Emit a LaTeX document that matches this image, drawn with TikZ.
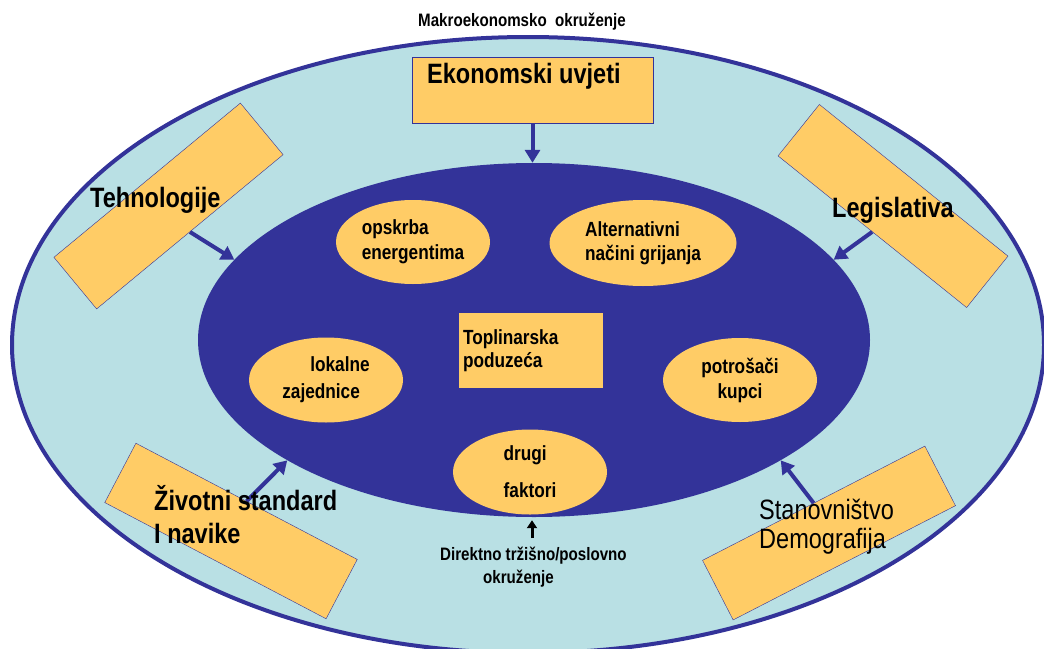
\documentclass[tikz,border=0pt]{standalone}
\usepackage{fontspec}
\setmainfont{Liberation Sans}[FakeStretch=0.84]
\usetikzlibrary{shapes.geometric}
\usetikzlibrary{arrows.meta}
\definecolor{okolina}{HTML}{B9E0E4}
\definecolor{tamnoplava}{HTML}{333399}
\definecolor{narancasta}{HTML}{FFCC66}

\begin{document}
\begin{tikzpicture}[x=1pt,y=-1pt,
		faktor/.style={ellipse,fill=narancasta,inner sep=0pt,minimum width=154pt,minimum height=84pt,align=left,font=\bfseries\fontsize{20.5}{25}\selectfont},
		okvir/.style={rectangle,draw=tamnoplava,fill=narancasta,minimum width=250pt,minimum height=67pt},
		utjecaj/.style={draw=tamnoplava,line width=4pt,-{Triangle[length=13pt,width=15pt]}},
		natpis/.style={anchor=base west,inner sep=0pt,align=left,font=\bfseries\fontsize{28}{33}\selectfont}]
	\useasboundingbox (0,0) rectangle (1044,648);
	\draw[fill=okolina,draw=tamnoplava,line width=4pt] (528,345) ellipse [x radius=516,y radius=308];
	\node[ellipse,fill=tamnoplava,inner sep=0pt,minimum width=672pt,minimum height=354pt] (trziste) at (534,340) {};

	\node[faktor] (opskrba) at (413,242) {opskrba\\energentima};
	\node[faktor,minimum width=187pt,minimum height=86pt,font=\bfseries\fontsize{20.5}{24}\selectfont] (grijanje) at (643,243) {Alternativni\\načini grijanja};
	\node[faktor,minimum height=85pt,font=\bfseries\fontsize{20.5}{27}\selectfont] (zajednice) at (326,380) {\hspace*{28pt}lokalne\\zajednice};
	\node[faktor,align=center] (kupci) at (740,380) {potrošači\\kupci};
	\node[faktor,minimum height=85pt,font=\bfseries\fontsize{20.5}{37}\selectfont] (drugi) at (530,472) {drugi\\faktori};
	\node[rectangle,fill=narancasta,minimum width=144pt,minimum height=75pt,text width=136pt,inner xsep=4pt,align=left,font=\bfseries\fontsize{20.5}{23}\selectfont] (poduzeca) at (531,350.5) {Toplinarska\\poduzeća};

	\node[okvir,minimum width=241pt,minimum height=66pt] (ekonomski) at (532.5,90) {};
	\node[okvir,minimum width=242pt,minimum height=67pt,rotate=39.6] (tehnologije) at (168.5,206) {};
	\node[okvir,minimum width=242pt,minimum height=66pt,rotate=-38.8] (legislativa) at (893,206) {};
	\node[okvir,rotate=-27.7] (standard) at (231,531) {};
	\node[okvir,rotate=27.2] (stanovnistvo) at (829,533) {};

	\draw[utjecaj] (ekonomski.south) -- (ekonomski.south |- trziste.north);
	\draw[utjecaj] (tehnologije.south) -- (trziste.165);
	\draw[utjecaj] (legislativa.south) -- (trziste.15);
	\draw[utjecaj] (standard.north) -- (trziste.206);
	\draw[utjecaj] (stanovnistvo.north) -- (trziste.334);

	\node[anchor=base,inner sep=0pt,font=\bfseries\fontsize{18}{20}\selectfont] (makro) at (522,26) {Makroekonomsko\ \ okruženje};
	\node[natpis] (ekonomskitekst) at (427,83) {Ekonomski uvjeti};
	\node[natpis] (tehnologijetekst) at (90,207) {Tehnologije};
	\node[natpis] (legislativatekst) at (832,217) {Legislativa};
	\node[natpis] (standardtekst) at (154,543) {Životni standard\\I navike};
	\node[natpis,font=\mdseries\fontsize{28}{29}\selectfont] (stanovnistvotekst) at (759,548) {Stanovništvo\\Demografija};
	\node[natpis,font=\bfseries\fontsize{18}{23}\selectfont] (direktno) at (440,583) {Direktno tržišno/poslovno\\\hspace*{43pt}okruženje};

	\coordinate (strelica) at (532,538);
	\draw[line width=3pt,shorten >=3pt,-{Triangle[length=8pt,width=10pt]}] (strelica) -- (strelica |- trziste.south);
\end{tikzpicture}
\end{document}
